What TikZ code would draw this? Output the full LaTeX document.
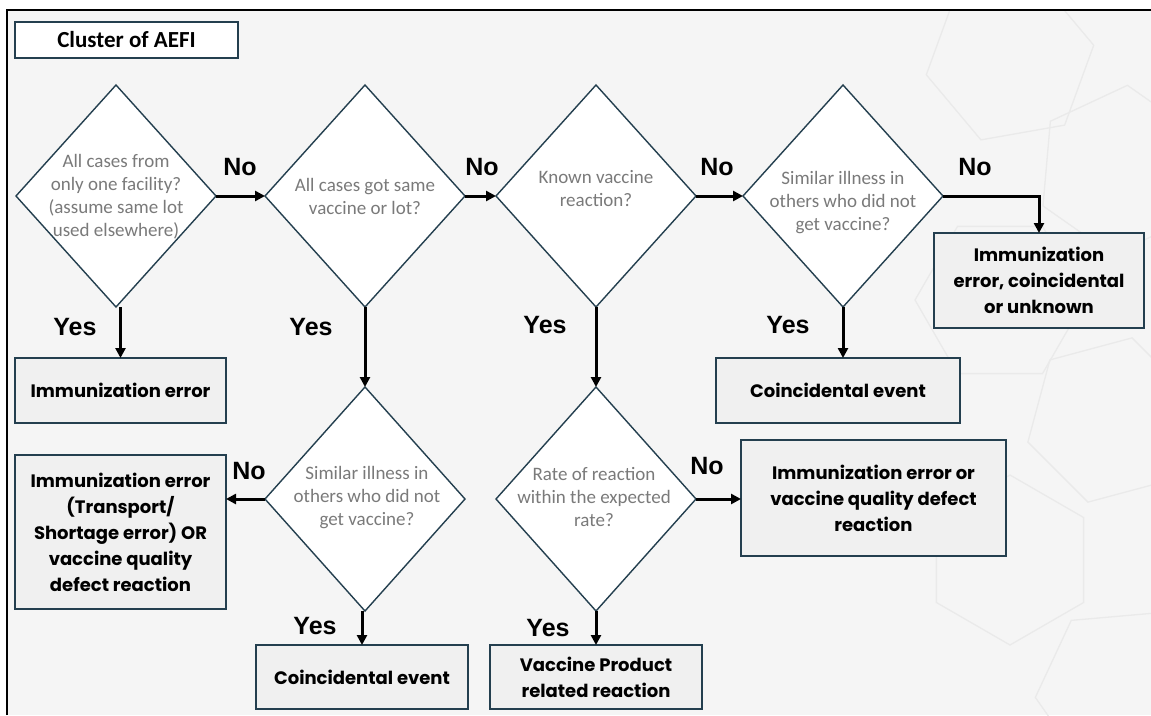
\documentclass[tikz,border=0pt]{standalone}
\usepackage{fontspec}
\setmainfont{Carlito}
\newfontfamily\boxfont{Poppins}
\newfontfamily\labfont{Liberation Sans}
\usetikzlibrary{shapes.geometric,arrows.meta}
\definecolor{bgc}{HTML}{F5F5F5}
\definecolor{boxfill}{HTML}{F0F0F0}
\definecolor{edgec}{HTML}{243F4F}
\definecolor{qtext}{HTML}{7A7A7A}
\definecolor{patc}{HTML}{EAEAEA}
\begin{document}
\begin{tikzpicture}[x=1pt,y=-1pt,
 dia/.style={diamond, draw=edgec, fill=white, line width=1.4pt, minimum width=200pt, minimum height=222pt, inner sep=0pt, outer sep=0pt},
 qtxt/.style={text=qtext, font=\fontsize{19}{23}\selectfont, align=center, inner sep=0pt},
 endbox/.style={draw=edgec, fill=boxfill, line width=1.5pt, font=\boxfont\bfseries\fontsize{18}{26}\selectfont, align=center, inner sep=0pt, outer sep=0pt},
 lab/.style={font=\labfont\bfseries\fontsize{25}{28}\selectfont, inner sep=0pt},
 arr/.style={-{Triangle[length=10pt,width=10pt]}, line width=3pt, black},
 hexa/.style={regular polygon, regular polygon sides=6, draw=patc, line width=1.3pt, minimum size=170pt, inner sep=0pt}]
\useasboundingbox (0,0) rectangle (1151,715);
\fill[white] (0,0) rectangle (1151,715);
\fill[bgc] (7,10) rectangle (1151,715);
% faint background pattern
\begin{scope}
\clip (7,10) rectangle (1151,715);
\node[hexa, rotate=10] (h1) at (1010,60) {};
\node[hexa, rotate=25] (h2) at (1120,170) {};
\node[hexa, rotate=0] (h3) at (1000,300) {};
\node[hexa, rotate=15] (h4) at (1110,420) {};
\node[hexa, rotate=30] (h5) at (1010,560) {};
\node[hexa, rotate=5] (h6) at (1120,690) {};
\end{scope}
\draw[line width=2pt] (7,715) -- (7,10) -- (1151,10);

% title
\node[draw=edgec, fill=white, line width=1.5pt, minimum width=223pt, minimum height=36pt, inner sep=0pt,
      font=\bfseries\fontsize{23}{26}\selectfont] (title) at (126.5,40) {Cluster of AEFI};

% diamonds
\node[dia] (d1) at (116,196) {};
\node[dia] (d2) at (365,196) {};
\node[dia] (d3) at (596,196) {};
\node[dia] (d4) at (843,196) {};
\node[dia, minimum height=224pt] (d5) at (365,499) {};
\node[dia, minimum height=224pt] (d6) at (596,499) {};

\node[qtxt] (t1) at (116,197) {All cases from\\only one facility?\\(assume same lot\\used elsewhere)};
\node[qtxt] (t2) at (365,196) {All cases got same\\vaccine or lot?};
\node[qtxt] (t3) at (596,189) {Known vaccine\\reaction?};
\node[qtxt] (t4) at (843,203) {Similar illness in\\others who did not\\get vaccine?};
\node[qtxt] (t5) at (367,498) {Similar illness in\\others who did not\\get vaccine?};
\node[qtxt] (t6) at (594,497) {Rate of reaction\\within the expected\\rate?};

% end boxes
\node[endbox, minimum width=211pt, minimum height=65pt] (b1) at (120.5,390.5) {Immunization error};
\node[endbox, minimum width=211pt, minimum height=154pt] (b2) at (120.5,532) {Immunization error\\(Transport/\\Shortage error) OR\\vaccine quality\\defect reaction};
\node[endbox, minimum width=210pt, minimum height=95pt] (b3) at (1039,280.5) {Immunization\\error, coincidental\\or unknown};
\node[endbox, minimum width=244pt, minimum height=65pt] (b4) at (838,390.5) {Coincidental event};
\node[endbox, minimum width=265pt, minimum height=116pt] (b5) at (873.5,498) {Immunization error or\\vaccine quality defect\\reaction};
\node[endbox, minimum width=212pt, minimum height=64pt] (b6) at (362,677) {Coincidental event};
\node[endbox, minimum width=212pt, minimum height=64pt] (b7) at (596,677) {Vaccine Product\\related reaction};

% connectors
\draw[arr] (d1.east) -- (d2.west);
\draw[arr] (d2.east) -- (d3.west);
\draw[arr] (d3.east) -- (d4.west);
\draw[arr] (d4.east) -| (b3.north);
\draw[arr] (b1.north |- d1.south) -- (b1.north);
\draw[arr] (d2.south) -- (d5.north);
\draw[arr] (d3.south) -- (d6.north);
\draw[arr] (d4.south) -- (d4.south |- b4.north);
\draw[arr] (d5.west) -- (d5.west -| b2.east);
\draw[arr] (d6.east) -- (d6.east -| b5.west);
\draw[arr] (b6.north |- d5.south) -- (b6.north);
\draw[arr] (d6.south) -- (d6.south |- b7.north);

% labels
\node[lab] (n1) at (240,167) {No};
\node[lab] (n2) at (482,167) {No};
\node[lab] (n3) at (717,167) {No};
\node[lab] (n4) at (975,167) {No};
\node[lab] (n5) at (249,471) {No};
\node[lab] (n6) at (707,466) {No};
\node[lab] (y1) at (75,327) {Yes};
\node[lab] (y2) at (311,327) {Yes};
\node[lab] (y3) at (545,325) {Yes};
\node[lab] (y4) at (788,325) {Yes};
\node[lab] (y5) at (315,626) {Yes};
\node[lab] (y6) at (548,628) {Yes};
\end{tikzpicture}
\end{document}
